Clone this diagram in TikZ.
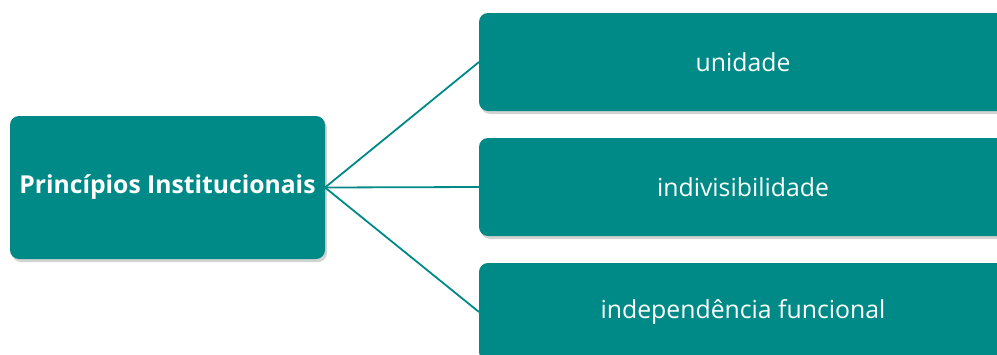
\documentclass[tikz,border=0pt]{standalone}
\usepackage{fontspec}
\setmainfont{Open Sans}
\usetikzlibrary{shadows}
\definecolor{tealbox}{RGB}{0,138,135}
\tikzset{
  box/.style = {rectangle, rounded corners=9pt, fill=tealbox, text=white,
                inner sep=0pt, outer sep=0pt, minimum height=#1,
                drop shadow={opacity=0.35, shadow xshift=2pt, shadow yshift=-3pt}},
  box/.default = 98pt,
  link/.style = {draw=tealbox, line width=1.8pt}
}

\begin{document}
\begin{tikzpicture}[x=1pt,y=-1pt]
	\def \bigtext{\fontsize{24.7}{30}\selectfont}
	\def \smalltext{\fontsize{24.8}{30}\selectfont}
	
	\useasboundingbox (0,0) rectangle (997,354);
	\clip (0,0) rectangle (997,354);
	
	% Root
	\node[box=143pt, minimum width=315pt, font=\bigtext\bfseries] (root) at (167.5,187.5) {Princípios Institucionais};
	
	% Branches
	\node[box, minimum width=528pt, font=\smalltext] (unidade) at (743,62) {unidade};
	\node[box, minimum width=528pt, font=\smalltext] (indiv) at (743,187) {indivisibilidade};
	\node[box, minimum width=528pt, font=\smalltext] (indep) at (743,312) {independência funcional};
	
	% Links
	\draw[link] (root.east) -- (unidade.west);
	\draw[link] (root.east) -- (indiv.west);
	\draw[link] (root.east) -- (indep.west);
	
\end{tikzpicture}
\end{document}
